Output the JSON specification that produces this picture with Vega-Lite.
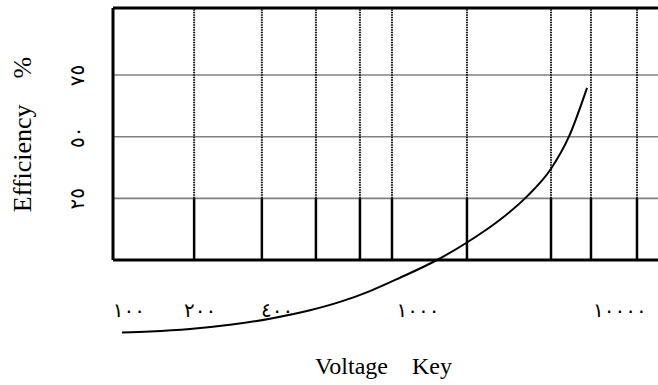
{
  "$schema": "https://vega.github.io/schema/vega-lite/v6.json",
  "width": 545,
  "height": 252,
  "autosize": "none",
  "padding": {"left": 113, "top": 8, "right": 0, "bottom": 125},
  "background": "white",
  "config": {"view": {"stroke": null}},
  "datasets": {
    "hgrid": [{"e": 25}, {"e": 50}, {"e": 75}],
    "vgrid": [{"v": 204}, {"v": 370}, {"v": 595}, {"v": 876}, {"v": 1161}, {"v": 2244}, {"v": 4697}, {"v": 6674}, {"v": 10000}],
    "curve": [
      {"v": 108.2, "e": -29.4}, {"v": 138.4, "e": -29.0}, {"v": 196.7, "e": -28.0}, {"v": 279.6, "e": -26.3},
      {"v": 397.4, "e": -23.8}, {"v": 564.7, "e": -20.4}, {"v": 735.1, "e": -17.0}, {"v": 957, "e": -12.6},
      {"v": 1245.6, "e": -7.2}, {"v": 1724.6, "e": 0}, {"v": 2244, "e": 7.1}, {"v": 2999, "e": 16.3},
      {"v": 3804, "e": 25.8}, {"v": 4697, "e": 37.0}, {"v": 5503, "e": 50.1}, {"v": 6446, "e": 69.8}
    ],
    "xlabels": [
      {"label": "١٠٠", "v": 115}, {"label": "٢٠٠", "v": 215}, {"label": "٤٠٠", "v": 423},
      {"label": "١٠٠٠", "v": 1459}, {"label": "١٠٠٠٠", "v": 8610}
    ],
    "frame": [{"k": 1}]
  },
  "layer": [
    {
      "data": {"name": "hgrid"},
      "mark": {"type": "rule", "color": "#808080", "strokeWidth": 1.6},
      "encoding": {
        "y": {
          "field": "e", "type": "quantitative",
          "scale": {"domain": [0, 102.2], "nice": false, "zero": false},
          "title": "Efficiency\u00a0\u00a0\u00a0\u00a0%",
          "axis": {
            "values": [25, 50, 75],
            "labelExpr": "datum.value == 25 ? '٢٥' : datum.value == 50 ? '٥٠' : '٧٥'",
            "labelAngle": 270, "labelAlign": "center", "labelBaseline": "middle",
            "labelFont": "DejaVu Sans", "labelFontSize": 20, "labelColor": "black",
            "labelPadding": 36, "ticks": false, "domain": false, "grid": false,
            "titleFont": "Liberation Serif", "titleFontSize": 26, "titleFontWeight": "normal",
            "titleColor": "black", "titleAngle": 270, "titleX": -91, "titleY": 126,
            "titleAlign": "center", "titleBaseline": "middle"
          }
        }
      }
    },
    {
      "data": {"name": "vgrid"},
      "mark": {"type": "rule", "color": "#111111", "strokeWidth": 2, "strokeDash": [1.5, 1]},
      "encoding": {
        "x": {
          "field": "v", "type": "quantitative",
          "scale": {"type": "log", "domain": [100, 12028], "nice": false},
          "title": "Voltage\u00a0\u00a0\u00a0\u00a0Key",
          "axis": {
            "labels": false, "ticks": false, "domain": false, "grid": false,
            "titleFont": "Liberation Serif", "titleFontSize": 24, "titleFontWeight": "normal",
            "titleColor": "black", "titleX": 270, "titleY": 113,
            "titleAlign": "center", "titleBaseline": "alphabetic"
          }
        },
        "y": {"datum": 25, "type": "quantitative", "title": "Efficiency\u00a0\u00a0\u00a0\u00a0%"},
        "y2": {"datum": 102.2}
      }
    },
    {
      "data": {"name": "vgrid"},
      "mark": {"type": "rule", "color": "black", "strokeWidth": 2.5},
      "encoding": {
        "x": {"field": "v", "type": "quantitative", "title": "Voltage\u00a0\u00a0\u00a0\u00a0Key"},
        "y": {"datum": 0, "type": "quantitative", "title": "Efficiency\u00a0\u00a0\u00a0\u00a0%"},
        "y2": {"datum": 25}
      }
    },
    {
      "data": {"name": "frame"},
      "mark": {"type": "rule", "color": "black", "strokeWidth": 3},
      "encoding": {"y": {"datum": 0, "type": "quantitative", "title": "Efficiency\u00a0\u00a0\u00a0\u00a0%"}}
    },
    {
      "data": {"name": "frame"},
      "mark": {"type": "rule", "color": "black", "strokeWidth": 3},
      "encoding": {"y": {"datum": 102.2, "type": "quantitative", "title": "Efficiency\u00a0\u00a0\u00a0\u00a0%"}}
    },
    {
      "data": {"name": "frame"},
      "mark": {"type": "rule", "color": "black", "strokeWidth": 3},
      "encoding": {"x": {"datum": 100, "type": "quantitative", "title": "Voltage\u00a0\u00a0\u00a0\u00a0Key"}}
    },
    {
      "data": {"name": "curve"},
      "mark": {"type": "line", "color": "black", "strokeWidth": 2, "interpolate": "monotone"},
      "encoding": {
        "x": {"field": "v", "type": "quantitative", "title": "Voltage\u00a0\u00a0\u00a0\u00a0Key"},
        "y": {"field": "e", "type": "quantitative", "title": "Efficiency\u00a0\u00a0\u00a0\u00a0%"}
      }
    },
    {
      "data": {"name": "xlabels"},
      "mark": {"type": "text", "font": "DejaVu Sans", "fontSize": 20, "color": "black", "align": "center", "baseline": "alphabetic"},
      "encoding": {
        "x": {"field": "v", "type": "quantitative", "title": "Voltage\u00a0\u00a0\u00a0\u00a0Key"},
        "y": {"datum": -23.1, "type": "quantitative", "title": "Efficiency\u00a0\u00a0\u00a0\u00a0%"},
        "text": {"field": "label"}
      }
    }
  ]
}
